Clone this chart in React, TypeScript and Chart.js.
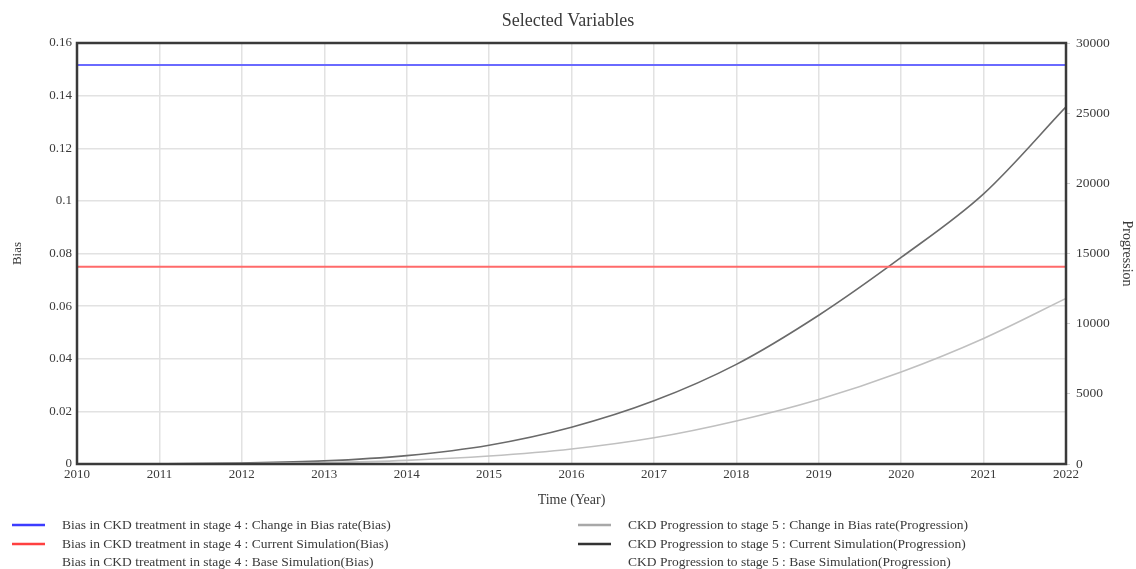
import React, { useEffect, useRef } from "react";
import { Chart, registerables } from "chart.js";

Chart.register(...registerables);

const years = [2010, 2011, 2012, 2013, 2014, 2015, 2016, 2017, 2018, 2019, 2020, 2021, 2022];

const biasChangeInBiasRate = [0.1516, 0.1516, 0.1516, 0.1516, 0.1516, 0.1516, 0.1516, 0.1516, 0.1516, 0.1516, 0.1516, 0.1516, 0.1516];
const biasCurrentSimulation = [0.075, 0.075, 0.075, 0.075, 0.075, 0.075, 0.075, 0.075, 0.075, 0.075, 0.075, 0.075, 0.075];
const biasBaseSimulation = [0.075, 0.075, 0.075, 0.075, 0.075, 0.075, 0.075, 0.075, 0.075, 0.075, 0.075, 0.075, 0.075];

const progressionChangeInBiasRate = [0, 6, 28, 95, 260, 570, 1070, 1870, 3070, 4600, 6560, 8950, 11800];
const progressionCurrentSimulation = [0, 15, 70, 220, 600, 1340, 2620, 4500, 7100, 10600, 14720, 19250, 25450];
const progressionBaseSimulation = [0, 15, 70, 220, 600, 1340, 2620, 4500, 7100, 10600, 14720, 19250, 25450];

const seriesLabels = [
  "Bias in CKD treatment in stage 4 : Change in Bias rate(Bias)",
  "Bias in CKD treatment in stage 4 : Current Simulation(Bias)",
  "Bias in CKD treatment in stage 4 : Base Simulation(Bias)",
  "CKD Progression to stage 5 : Change in Bias rate(Progression)",
  "CKD Progression to stage 5 : Current Simulation(Progression)",
  "CKD Progression to stage 5 : Base Simulation(Progression)",
];

const yearTicks = years;
const FONT = "'Liberation Serif', 'Times New Roman', serif";
const TEXT = "#3a3a3a";

const toXY = (vals: number[]) => years.map((x, i) => ({ x, y: vals[i] }));

const framePlugin = {
  id: "frame",
  afterDatasetsDraw(chart: any) {
    const { ctx, chartArea } = chart;
    const { left, right, top, bottom } = chartArea;
    ctx.save();
    ctx.strokeStyle = "#3a3a3a";
    ctx.lineWidth = 2.5;
    ctx.strokeRect(left, top, right - left, bottom - top);
    ctx.restore();
  },
};

const legendPlugin = {
  id: "customLegend",
  afterDraw(chart: any) {
    const { ctx } = chart;
    const ds = chart.data.datasets;
    const cols = [
      { lineX: 12, textX: 62 },
      { lineX: 578, textX: 628 },
    ];
    const rows = [525, 544, 562];
    ctx.save();
    ctx.font = `13.5px ${FONT}`;
    ctx.textBaseline = "middle";
    ctx.textAlign = "left";
    ds.forEach((d: any, i: number) => {
      const col = cols[Math.floor(i / 3)];
      const y = rows[i % 3];
      ctx.strokeStyle = d.legendColor || d.borderColor;
      ctx.lineWidth = 2.5;
      ctx.beginPath();
      ctx.moveTo(col.lineX, y);
      ctx.lineTo(col.lineX + 33, y);
      ctx.stroke();
      ctx.fillStyle = TEXT;
      ctx.fillText(d.label, col.textX, y);
    });
    ctx.restore();
  },
};

export default function App() {
  const ref = useRef<HTMLCanvasElement | null>(null);

  useEffect(() => {
    document.body.style.margin = "0";
    const canvas = ref.current;
    if (!canvas) return;
    const chart = new Chart(canvas, {
      type: "line",
      data: {
        datasets: [
          {
            label: seriesLabels[0],
            data: toXY(biasChangeInBiasRate),
            yAxisID: "y",
            borderColor: "#6a6aff",
            legendColor: "#3c3cff",
            borderWidth: 2,
            pointRadius: 0,
          } as any,
          {
            label: seriesLabels[1],
            data: toXY(biasCurrentSimulation),
            yAxisID: "y",
            borderColor: "#ff6a6a",
            legendColor: "#ff4040",
            borderWidth: 2,
            pointRadius: 0,
          },
          {
            label: seriesLabels[2],
            data: toXY(biasBaseSimulation),
            yAxisID: "y",
            borderColor: "rgba(0,0,0,0)",
            borderWidth: 2,
            pointRadius: 0,
          },
          {
            label: seriesLabels[3],
            data: toXY(progressionChangeInBiasRate),
            yAxisID: "y1",
            borderColor: "#c0c0c0",
            legendColor: "#a8a8a8",
            borderWidth: 1.6,
            pointRadius: 0,
            cubicInterpolationMode: "monotone",
          },
          {
            label: seriesLabels[4],
            data: toXY(progressionCurrentSimulation),
            yAxisID: "y1",
            borderColor: "#6a6a6a",
            legendColor: "#333333",
            borderWidth: 1.6,
            pointRadius: 0,
            cubicInterpolationMode: "monotone",
          },
          {
            label: seriesLabels[5],
            data: toXY(progressionBaseSimulation),
            yAxisID: "y1",
            borderColor: "rgba(0,0,0,0)",
            borderWidth: 1.6,
            pointRadius: 0,
            cubicInterpolationMode: "monotone",
          },
        ] as any,
      },
      options: {
        responsive: false,
        animation: false,
        layout: { padding: { left: 0, right: 0, top: 0, bottom: 60 } },
        plugins: {
          legend: { display: false },
          tooltip: { enabled: false },
          title: {
            display: true,
            text: "Selected Variables",
            color: TEXT,
            font: { family: FONT, size: 18, weight: "normal" },
            padding: { top: 10, bottom: 11.4 },
          },
        },
        scales: {
          x: {
            type: "linear",
            min: 2010,
            max: 2022,
            afterBuildTicks: (scale: any) => {
              scale.ticks = yearTicks.map((v) => ({ value: v }));
            },
            afterFit: (scale: any) => {
              scale.height = 45;
            },
            ticks: {
              color: TEXT,
              font: { family: FONT, size: 13 },
              padding: 3,
              maxRotation: 0,
              autoSkip: false,
              callback: (v: any) => String(v),
            },
            grid: { color: "#e2e2e2", lineWidth: 1.5, drawTicks: false },
            border: { display: false },
            title: {
              display: true,
              text: "Time (Year)",
              color: TEXT,
              font: { family: FONT, size: 14 },
              padding: { top: 0, bottom: 0.6 },
            },
          },
          y: {
            type: "linear",
            position: "left",
            min: 0,
            max: 0.16,
            afterFit: (scale: any) => {
              scale.width = 77;
            },
            ticks: {
              stepSize: 0.02,
              color: TEXT,
              font: { family: FONT, size: 13 },
              padding: 5,
              callback: (v: any) => String(Number(Number(v).toFixed(2))),
            },
            grid: { color: "#e2e2e2", lineWidth: 1.5, drawTicks: false },
            border: { display: false },
            title: {
              display: true,
              text: "Bias",
              color: TEXT,
              font: { family: FONT, size: 13 },
              padding: { top: 10, bottom: 0 },
            },
          },
          y1: {
            type: "linear",
            position: "right",
            min: 0,
            max: 30000,
            afterFit: (scale: any) => {
              scale.width = 70;
            },
            ticks: {
              stepSize: 5000,
              color: TEXT,
              font: { family: FONT, size: 13.5 },
              padding: 6,
              callback: (v: any) => String(v),
            },
            grid: {
              drawOnChartArea: false,
              drawTicks: true,
              tickLength: 4,
              color: "#cfcfcf",
            },
            border: { display: false },
            title: {
              display: true,
              text: "Progression",
              color: TEXT,
              font: { family: FONT, size: 14 },
              padding: { top: 0.6, bottom: 0 },
            },
          },
        },
      } as any,
      plugins: [framePlugin, legendPlugin],
    });
    return () => chart.destroy();
  }, []);

  return (
    <div style={{ width: 1136, height: 569, background: "#fff" }}>
      <canvas ref={ref} width={1136} height={569} />
    </div>
  );
}
